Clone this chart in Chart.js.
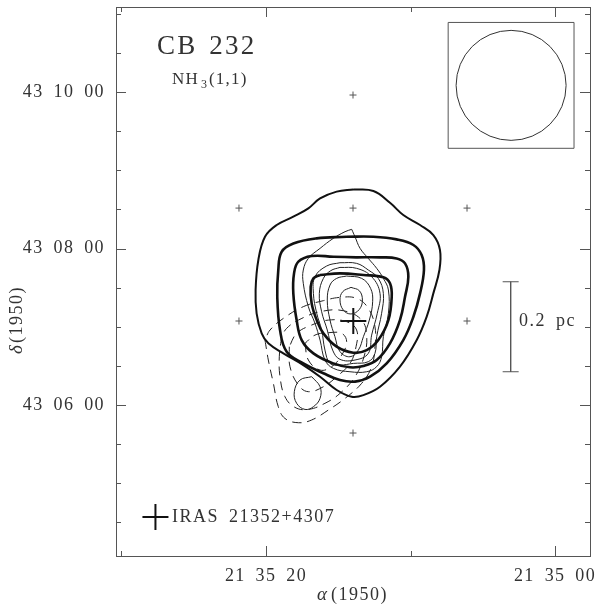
<!DOCTYPE html>
<html lang="en">
<head>
  <meta charset="UTF-8" />
  <title>CB 232</title>
  <script src="https://cdn.jsdelivr.net/npm/chart.js"></script>
  <style>
    html, body { margin: 0; padding: 0; background: #fff; }
    canvas { display: block; }
  </style>
</head>
<body>
  <canvas id="chart" width="600" height="608"></canvas>
  <script>
    // x = seconds of RA after 21 35 00, y = arcsec of Dec after 43 00 00
    const xTicks = [30, 20, 10, 0];
    const xMajor = [20, 0];
    const xLabels = { 20: '21 35 20', 0: '21 35 00' };
    const yTicks = [270, 300, 330, 360, 390, 420, 450, 480, 510, 540, 570, 600, 630, 660];
    const yMajor = [360, 480, 600];
    const yLabels = { 360: '43 06 00', 480: '43 08 00', 600: '43 10 00' };

    const thickA = [[13.96,525.3],[12.57,524.1],[11.42,515.1],[10.50,505.7],[9.34,498.0],[8.42,490.3],[7.96,478.8],[8.00,463.5],[8.42,445.6],[8.88,427.7],[9.57,409.8],[10.73,389.4],[12.11,374.0],[13.26,367.6],[14.07,366.4],[15.11,371.5],[16.26,381.7],[17.42,390.6],[18.80,399.6],[19.84,407.3],[20.30,414.9],[20.65,430.3],[20.72,448.2],[20.53,471.2],[20.07,489.0],[19.26,498.0],[18.11,504.4],[17.07,510.8],[16.26,518.4],[15.11,523.6]];
    const thickB = [[14.42,489.0],[12.57,489.0],[10.96,487.0],[9.80,482.7],[9.23,475.0],[9.07,463.5],[9.34,445.6],[9.80,427.7],[10.50,409.8],[11.65,391.9],[12.80,381.7],[13.84,377.9],[14.88,379.1],[16.03,384.3],[17.42,391.9],[18.57,400.9],[19.03,417.5],[19.22,443.0],[19.15,463.5],[18.92,477.5],[18.11,483.9],[16.49,487.8]];
    const thickC = [[13.73,473.2],[12.11,473.2],[10.96,472.4],[10.38,468.6],[10.15,458.4],[10.38,443.0],[10.73,425.1],[11.42,407.3],[12.34,394.5],[13.26,389.9],[14.19,388.9],[15.34,391.9],[16.72,399.6],[17.53,409.8],[17.88,425.1],[18.11,445.6],[18.06,460.9],[17.76,469.9],[16.84,474.2],[15.34,473.7]];
    const thickD = [[16.26,459.7],[14.88,460.9],[13.26,459.7],[11.88,457.9],[11.42,453.3],[11.30,443.0],[11.53,425.1],[12.23,409.8],[13.03,402.1],[13.96,400.1],[15.11,404.7],[16.03,414.9],[16.49,425.1],[16.84,437.9],[16.91,450.7],[16.72,457.1]];

    const thinE = [[14.07,494.7],[13.84,489.0],[13.49,480.1],[12.92,472.4],[12.34,464.8],[11.88,457.1],[11.53,448.2],[11.53,430.3],[11.88,412.4],[12.00,397.0],[12.34,389.4],[13.03,385.5],[14.19,385.5],[15.34,388.1],[15.92,394.5],[16.26,409.8],[16.61,422.6],[17.07,435.4],[17.42,453.3],[17.42,463.5],[17.07,472.4],[16.26,480.1],[15.34,487.8],[14.53,492.9]];
    const thinF = [[14.88,469.1],[13.73,468.6],[12.92,463.5],[12.23,457.1],[11.88,445.6],[12.00,430.3],[12.34,412.4],[12.46,399.6],[12.92,393.2],[13.96,391.9],[14.88,390.6],[15.57,391.9],[15.92,402.1],[16.15,417.5],[16.49,430.3],[16.72,445.6],[16.61,458.4],[15.80,466.6]];
    const thinI = [[14.88,465.5],[13.73,464.8],[12.69,458.4],[12.11,445.6],[12.30,430.3],[12.69,413.6],[12.92,399.6],[13.84,394.5],[14.88,395.0],[15.39,402.1],[15.76,417.5],[16.15,431.5],[16.31,445.6],[16.03,457.1],[15.52,463.0]];
    const thinH = [[14.42,458.9],[13.38,457.1],[12.76,449.4],[12.62,439.2],[12.85,425.1],[13.26,412.4],[13.61,402.1],[14.19,397.0],[14.88,400.9],[15.23,412.4],[15.57,425.1],[15.76,440.5],[15.57,452.0],[15.11,457.1]];
    const thinG = [[14.12,450.2],[13.54,447.6],[13.33,440.5],[13.54,433.3],[14.12,429.8],[14.65,432.8],[14.88,440.5],[14.69,446.9]];
    const thinBlob = [[16.84,381.7],[16.26,374.0],[16.26,365.1],[16.72,358.7],[17.30,356.6],[17.88,361.3],[18.04,370.2],[17.65,379.1]];

    const dashJ = [[20.07,409.8],[19.84,394.5],[19.49,376.6],[19.15,358.7],[18.69,349.7],[17.76,346.4],[16.84,348.5],[15.69,356.1],[14.53,365.1],[13.38,376.6],[12.69,389.4],[12.46,404.7],[12.46,420.0],[12.92,434.1],[13.73,441.8],[14.88,442.5],[16.03,440.0],[17.42,435.4],[18.80,426.4],[19.72,417.5]];
    const dashK = [[18.92,412.4],[19.08,397.0],[19.03,381.7],[18.69,366.4],[18.00,358.2],[17.07,356.6],[15.92,361.3],[14.88,368.9],[13.84,381.7],[13.22,397.0],[13.03,412.4],[13.38,425.1],[14.65,432.3],[16.26,431.5],[17.76,425.1],[18.57,418.8]];
    const dashL = [[18.39,404.7],[18.34,389.4],[17.76,375.3],[17.07,370.2],[16.03,374.0],[15.11,381.7],[14.19,391.9],[13.77,404.7],[13.73,417.5],[14.42,423.9],[15.69,425.1],[16.84,421.3],[17.88,414.9]];
    const dashM = [[17.30,407.3],[17.07,394.5],[16.26,386.8],[15.46,389.4],[14.76,398.3],[14.42,408.5],[14.76,414.9],[15.69,415.4],[16.61,413.6]];

    const gridCrosses = [[13.98,597.7],[21.87,511.0],[13.98,511.0],[6.09,511.0],[21.87,424.4],[6.09,424.4],[13.98,338.5]];
    const irasCrosses = [[13.96,424.4],[27.65,274.1]];
    const beamCentre = [[3.04,605.1]];
    const scaleBar = [[3.07,454.5],[3.07,385.5]];

    function closed(points) {
      return [...points, points[0]];
    }

    function contour(points, width, dash) {
      return {
        type: 'line',
        data: closed(points),
        borderColor: width > 1.5 ? '#111' : '#222',
        borderWidth: width,
        borderDash: dash || [],
        tension: 0.4,
        pointRadius: 0
      };
    }

    function frameAndText(chart) {
      const ctx = chart.ctx;
      const a = chart.chartArea;
      const xs = chart.scales.x;
      const ys = chart.scales.y;
      ctx.save();
      ctx.strokeStyle = '#555';
      ctx.lineWidth = 1;
      ctx.strokeRect(a.left + 0.5, a.top + 0.5, a.right - a.left, a.bottom - a.top);
      ctx.beginPath();
      xTicks.forEach(v => {
        const len = xMajor.includes(v) ? 10 : 5;
        const p = Math.round(xs.getPixelForValue(v)) + 0.5;
        ctx.moveTo(p, a.top); ctx.lineTo(p, a.top + len);
        ctx.moveTo(p, a.bottom); ctx.lineTo(p, a.bottom - len);
      });
      yTicks.forEach(v => {
        const len = yMajor.includes(v) ? 10 : 5;
        const p = Math.round(ys.getPixelForValue(v)) + 0.5;
        ctx.moveTo(a.left, p); ctx.lineTo(a.left + len, p);
        ctx.moveTo(a.right, p); ctx.lineTo(a.right - len, p);
      });
      ctx.stroke();

      ctx.fillStyle = '#333';
      ctx.textBaseline = 'alphabetic';
      ctx.textAlign = 'left';
      ctx.letterSpacing = '2.2px';
      ctx.wordSpacing = '3px';
      ctx.font = '27px "Liberation Serif"';
      ctx.fillText('CB 232', 157, 54);
      ctx.wordSpacing = '4px';
      ctx.letterSpacing = '1.2px';
      ctx.font = '17px "Liberation Serif"';
      ctx.fillText('NH', 172, 84);
      ctx.font = '12px "Liberation Serif"';
      ctx.fillText('3', 201, 88);
      ctx.font = '17px "Liberation Serif"';
      ctx.fillText('(1,1)', 209, 84);
      ctx.font = '18px "Liberation Serif"';
      ctx.letterSpacing = '1.5px';
      ctx.fillText('IRAS 21352+4307', 172, 522);
      ctx.fillText('0.2 pc', 519, 326);
      ctx.font = 'italic 19px "Liberation Serif"';
      ctx.fillText('α', 317, 600);
      ctx.font = '18px "Liberation Serif"';
      ctx.fillText('(1950)', 331, 600);
      ctx.translate(22, 354);
      ctx.rotate(-Math.PI / 2);
      ctx.font = 'italic 19px "Liberation Serif"';
      ctx.fillText('δ', 0, 0);
      ctx.font = '18px "Liberation Serif"';
      ctx.fillText('(1950)', 11, 0);
      ctx.restore();
    }

    new Chart(document.getElementById('chart'), {
      type: 'scatter',
      data: {
        datasets: [
          contour(thickA, 2), contour(thickB, 2.6), contour(thickC, 2.6), contour(thickD, 2.6),
          contour(thinE, 1), contour(thinF, 1), contour(thinI, 1), contour(thinH, 1), contour(thinG, 1), contour(thinBlob, 1),
          contour(dashJ, 1, [9, 6]), contour(dashK, 1, [9, 6]), contour(dashL, 1, [9, 6]), contour(dashM, 1, [9, 6]),
          { data: gridCrosses, pointStyle: 'cross', pointRadius: 3.5, borderColor: '#555', borderWidth: 1, showLine: false },
          { data: irasCrosses, pointStyle: 'cross', pointRadius: 13, borderColor: '#111', borderWidth: 2, showLine: false },
          { data: beamCentre, pointStyle: 'circle', pointRadius: 55, borderColor: '#333', backgroundColor: 'transparent', borderWidth: 1, showLine: false },
          { data: beamCentre, pointStyle: 'rect', pointRadius: 89, borderColor: '#555', backgroundColor: 'transparent', borderWidth: 1, showLine: false },
          { type: 'line', data: scaleBar, pointStyle: 'line', pointRadius: 8, borderColor: '#555', borderWidth: 1 }
        ]
      },
      options: {
        responsive: false,
        animation: false,
        layout: { autoPadding: false, padding: { top: 7, right: 10 } },
        plugins: { legend: { display: false }, tooltip: { enabled: false } },
        scales: {
          x: {
            type: 'linear',
            reverse: true,
            min: -2.42,
            max: 30.38,
            afterFit: s => { s.height = 52; s.paddingLeft = 0; s.paddingRight = 0; },
            afterBuildTicks: s => { s.ticks = xTicks.map(value => ({ value })); },
            grid: { display: false, drawTicks: false },
            border: { display: false },
            ticks: {
              autoSkip: false,
              maxRotation: 0,
              padding: 9,
              color: '#333',
              font: { family: '"Liberation Serif"', size: 18 },
              callback: v => xLabels[v] || ''
            }
          },
          y: {
            type: 'linear',
            min: 244.2,
            max: 665.2,
            afterFit: s => { s.width = 116; s.paddingTop = 0; s.paddingBottom = 0; },
            afterBuildTicks: s => { s.ticks = yTicks.map(value => ({ value })); },
            grid: { display: false, drawTicks: false },
            border: { display: false },
            ticks: {
              autoSkip: false,
              padding: 11,
              color: '#333',
              font: { family: '"Liberation Serif"', size: 18 },
              callback: v => yLabels[v] || ''
            }
          }
        }
      },
      plugins: [{
        id: 'spacing',
        beforeDraw: chart => {
          chart.ctx.letterSpacing = '1.4px';
          chart.ctx.wordSpacing = '4px';
        },
        afterDraw: chart => {
          chart.ctx.letterSpacing = '0px';
          chart.ctx.wordSpacing = '0px';
          frameAndText(chart);
        }
      }]
    });
  </script>
</body>
</html>
